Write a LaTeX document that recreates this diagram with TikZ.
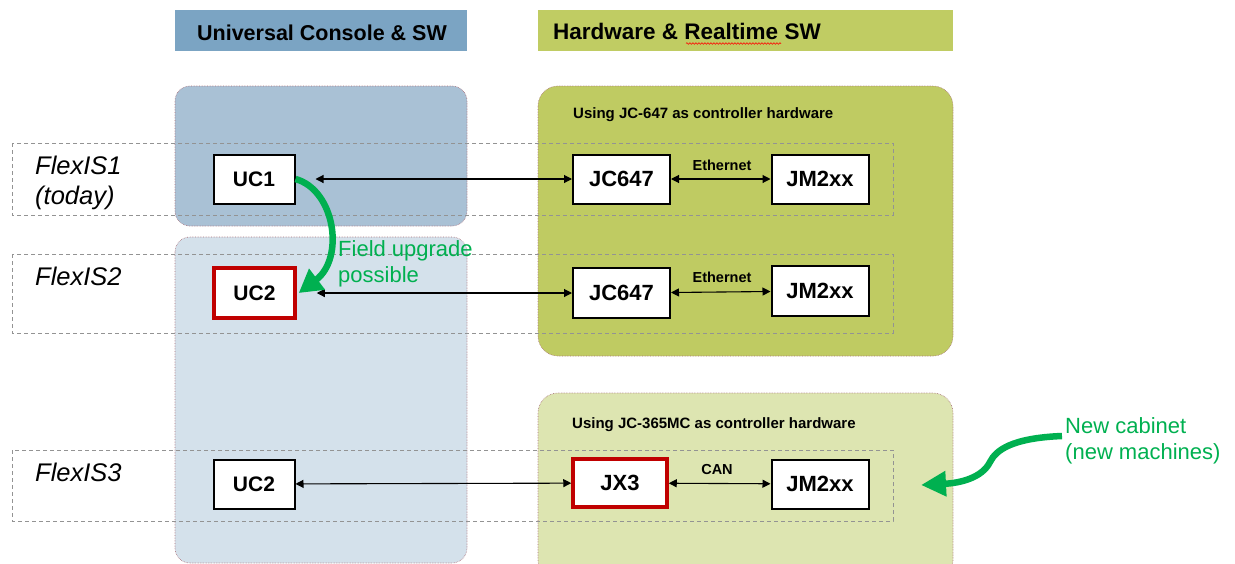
\documentclass[tikz,border=0pt]{standalone}
\usepackage{fontspec}
\setmainfont{Liberation Sans}
\usetikzlibrary{arrows.meta,decorations.pathmorphing}
\definecolor{hdrblue}{HTML}{7BA4C3}
\definecolor{colblueA}{HTML}{A9C1D5}
\definecolor{colblueB}{HTML}{D4E1EB}
\definecolor{hdrgreen}{HTML}{C0CC63}
\definecolor{colgreenA}{HTML}{BFCB62}
\definecolor{colgreenB}{HTML}{DDE5B1}
\definecolor{fxgreen}{HTML}{00B050}
\definecolor{boxred}{HTML}{C00000}
\definecolor{edgered}{HTML}{A9707A}
\begin{document}
\begin{tikzpicture}[x=1pt,y=-1pt,
  column/.style={draw=edgered, densely dotted, line width=0.6pt, rounded corners=#1},
  rowbox/.style={draw=gray!85, dash pattern=on 4pt off 3pt, line width=0.8pt},
  unitbox/.style={draw=black, fill=white, line width=2pt, inner sep=0pt,
    minimum width=97pt, minimum height=49pt, font=\fontsize{22}{26}\selectfont\bfseries},
  ucbox/.style={unitbox, minimum width=81pt, font=\fontsize{21}{25}\selectfont\bfseries},
  redbox/.style={draw=boxred, line width=3.5pt},
  flexlabel/.style={anchor=base west, inner sep=0pt, font=\fontsize{25.5}{30}\selectfont\itshape},
  hdrtext/.style={inner sep=0pt, font=\fontsize{21.5}{26}\selectfont\bfseries},
  smallbold/.style={inner sep=0pt, font=\fontsize{14.5}{17}\selectfont\bfseries},
  greentext/.style={anchor=base west, inner sep=0pt, text=fxgreen, font=\fontsize{22}{26}\selectfont},
  link/.style={{Triangle[length=8pt,width=8pt]}-{Triangle[length=8pt,width=8pt]}, line width=1.1pt},
  bigarrow/.style={draw=fxgreen, line width=6.5pt, -{Triangle[length=23pt,width=25pt]}}
]
\useasboundingbox (0,0) rectangle (1235,563);

% headers
\fill[hdrblue] (175,10) rectangle (467,51);
\fill[hdrgreen] (538,10) rectangle (953,51);
\node[hdrtext, anchor=base] (hL) at (322,40) {Universal Console \& SW};
\node[hdrtext, anchor=base west, font=\fontsize{22.5}{27}\selectfont\bfseries] (hR) at (553,39) {Hardware \& Realtime SW};
\draw[red, line width=0.6pt, decorate, decoration={snake, amplitude=0.8pt, segment length=3pt}] (686,43.5) -- (781,43.5);

% columns
\draw[column=15pt, fill=colblueA] (175,86) rectangle (467,226);
\draw[column=15pt, fill=colblueB] (175,237) rectangle (467,563);
\draw[column=20pt, fill=colgreenA] (538,86) rectangle (953,356);
\draw[column=20pt, fill=colgreenB] (538,393) rectangle (953,580);

% row boxes
\draw[rowbox] (12,143) rectangle (893,215);
\draw[rowbox] (12,254) rectangle (893,333);
\draw[rowbox] (12,450) rectangle (893,521);

% labels
\node[flexlabel] (f1a) at (35,174) {FlexIS1};
\node[flexlabel] (f1b) at (35,204) {(today)};
\node[flexlabel] (f2) at (35,285) {FlexIS2};
\node[flexlabel] (f3) at (35,481) {FlexIS3};

\node[smallbold, anchor=base west, font=\fontsize{15}{18}\selectfont\bfseries] (hw1) at (573,118) {Using JC-647 as controller hardware};
\node[smallbold, anchor=base west, font=\fontsize{15}{18}\selectfont\bfseries] (hw2) at (572,428) {Using JC-365MC as controller hardware};

% units
\node[ucbox] (uc1) at (254,179) {UC1};
\node[ucbox, redbox, minimum width=81pt, minimum height=50pt] (uc2) at (254.5,293) {UC2};
\node[ucbox] (uc3) at (254,484) {UC2};

\node[unitbox] (jc1) at (621.5,179) {JC647};
\node[unitbox] (jm1) at (820,179) {JM2xx};
\node[unitbox, minimum height=50pt] (jc2) at (621.5,293) {JC647};
\node[unitbox, minimum height=50pt] (jm2) at (820,291) {JM2xx};
\node[unitbox, redbox, minimum width=94pt, minimum height=48pt] (jx3) at (620,483) {JX3};
\node[unitbox, minimum height=49pt] (jm3) at (820,484) {JM2xx};

% links
\draw[link, shorten <=20pt] (uc1) -- (jc1);
\draw[link] (jc1) -- (jm1);
\draw[link, shorten <=20pt] (uc2) -- (jc2);
\draw[link] (jc2) -- (jm2);
\draw[link] (uc3) -- (jx3);
\draw[link] (jx3) -- (jm3);

\node[smallbold, anchor=base] (eth1) at (722,170) {Ethernet};
\node[smallbold, anchor=base] (eth2) at (722,282) {Ethernet};
\node[smallbold, anchor=base] (can) at (717,474) {CAN};

% field upgrade arrow
\draw[bigarrow] (uc1.east) .. controls (335,190) and (345,258) .. ([xshift=2pt]uc2.east);
\node[greentext] (fu1) at (338,256) {Field upgrade};
\node[greentext] (fu2) at (338,282) {possible};

% new cabinet
\node[greentext] (nc1) at (1065,433) {New cabinet};
\node[greentext] (nc2) at (1065,459) {(new machines)};
\coordinate (nctail) at (1062,436);
\coordinate (ncmid) at (990,462);
\coordinate (nctip) at (921,485);
\draw[bigarrow, -{Triangle[length=25pt,width=24pt]}] (nctail) .. controls (1012,438) and (996,450) .. (ncmid) .. controls (982,478) and (960,483) .. (nctip);
\end{tikzpicture}
\end{document}
